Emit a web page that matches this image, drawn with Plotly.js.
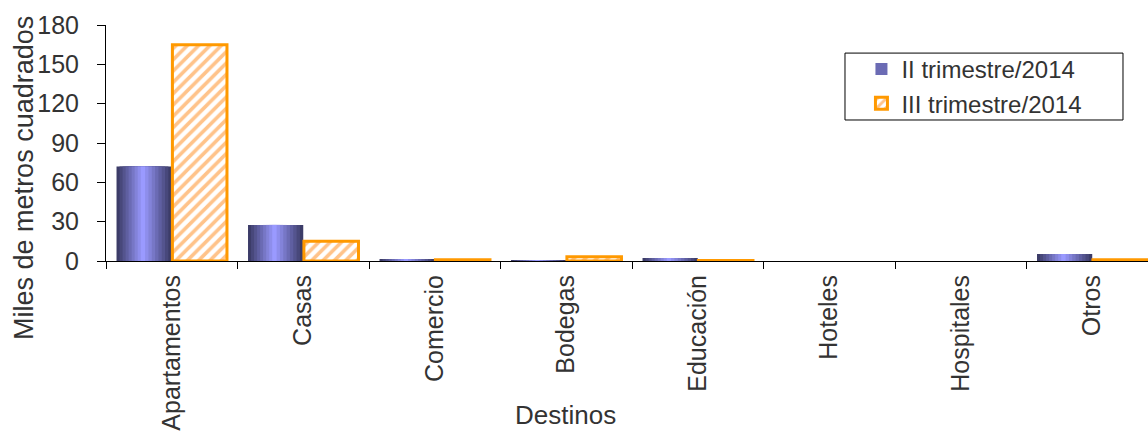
<!DOCTYPE html>
<html>
<head>
<meta charset="utf-8">
<script src="https://cdn.plot.ly/plotly-3.0.1.min.js"></script>
<style>
  html, body { margin: 0; padding: 0; background: #ffffff; }
  #chart { width: 1148px; height: 431px; }
</style>
</head>
<body>
<div id="chart"></div>
<script>
// ---- data ----
const categorias = ['Apartamentos', 'Casas', 'Comercio', 'Bodegas', 'Educación', 'Hoteles', 'Hospitales', 'Otros'];
const trimestreII = [72, 27.5, 1.5, 0.7, 2.3, 0, 0, 5.3];
const trimestreIII = [165, 15, 1, 3.2, 0.4, 0, 0, 1];
const nombreII = 'II trimestre/2014';
const nombreIII = 'III trimestre/2014';
const yTicks = [0, 30, 60, 90, 120, 150, 180];

// ---- styling ----
const FONT = "'Liberation Sans', Arial, sans-serif";
const TEXT = '#333333';

function mix(c1, c2, t) {
  const a = c1.match(/\w\w/g).map(h => parseInt(h, 16));
  const b = c2.match(/\w\w/g).map(h => parseInt(h, 16));
  return 'rgb(' + a.map((v, i) => Math.round(v + (b[i] - v) * t)).join(',') + ')';
}

const traces = [];
// Blue series drawn as nested layers to imitate the horizontal gradient
const L = -0.42, R = 0.0, C = -0.22;
const layers = 9;
for (let k = 0; k < layers; k++) {
  const t = k / (layers - 1);
  const left = L + t * (C - L) * 0.92;
  const right = R - t * (R - C) * 0.92;
  traces.push({
    type: 'bar',
    x: categorias,
    y: trimestreII,
    name: nombreII,
    offset: left,
    width: right - left,
    marker: { color: mix('3c3c68', '9a9aff', t), line: { width: 0 } },
    showlegend: k === 4,
    legendrank: 1,
    hoverinfo: 'skip'
  });
}
// Orange hatched series
traces.push({
  type: 'bar',
  x: categorias,
  y: trimestreIII,
  name: nombreIII,
  offset: 0.005,
  width: 0.415,
  marker: {
    color: '#ffffff',
    line: { color: '#ff9900', width: trimestreIII.map(v => (v > 0 ? 3 : 0)) },
    pattern: { shape: '/', fgcolor: '#ffc38a', bgcolor: '#ffffff', size: 8, solidity: 0.45 }
  },
  legendrank: 2,
  hoverinfo: 'skip'
});

const layout = {
  width: 1148,
  height: 431,
  margin: { l: 106, r: 0, t: 25, b: 170, pad: 0 },
  paper_bgcolor: '#ffffff',
  plot_bgcolor: '#ffffff',
  barmode: 'overlay',
  font: { family: FONT, color: TEXT, size: 24 },
  showlegend: true,
  legend: {
    x: 0.725, xanchor: 'left',
    y: 0.907, yanchor: 'top',
    bgcolor: 'rgba(0,0,0,0)',
    borderwidth: 0,
    font: { family: FONT, size: 24, color: TEXT },
    traceorder: 'normal',
    itemwidth: 30,
    tracegroupgap: 0
  },
  xaxis: {
    type: 'category',
    range: [-0.5, 7.424],
    tickson: 'boundaries',
    ticks: 'outside',
    ticklen: 7,
    tickcolor: '#000000',
    tickwidth: 1,
    tickangle: -90,
    ticklabelstandoff: 3,
    tickfont: { family: FONT, size: 25, color: TEXT },
    showline: true,
    linecolor: '#000000',
    linewidth: 1,
    showgrid: false,
    zeroline: false,
    fixedrange: true
  },
  yaxis: {
    range: [0, 180],
    tickvals: yTicks,
    ticktext: yTicks.map(String),
    ticks: 'outside',
    ticklen: 8,
    tickcolor: '#000000',
    tickwidth: 1,
    ticklabelstandoff: 13,
    tickfont: { family: FONT, size: 25, color: TEXT },
    showline: true,
    linecolor: '#000000',
    linewidth: 1,
    showgrid: false,
    zeroline: false,
    fixedrange: true
  },
  shapes: [{
    type: 'rect', xref: 'paper', yref: 'paper',
    x0: 0.7092, x1: 0.976, y0: 0.5975, y1: 0.881,
    line: { color: '#000000', width: 1 },
    fillcolor: 'rgba(0,0,0,0)'
  }],
  annotations: [
    {
      text: 'Miles de metros cuadrados',
      xref: 'paper', yref: 'paper',
      x: -0.0787, y: 0.352,
      xanchor: 'center', yanchor: 'middle',
      textangle: -90,
      showarrow: false,
      font: { family: FONT, size: 27, color: TEXT }
    },
    {
      text: 'Destinos',
      xref: 'paper', yref: 'paper',
      x: 0.4405, y: -0.652,
      xanchor: 'center', yanchor: 'middle',
      showarrow: false,
      font: { family: FONT, size: 26, color: TEXT }
    }
  ]
};

Plotly.newPlot('chart', traces, layout, { staticPlot: true, displayModeBar: false });
</script>
</body>
</html>
